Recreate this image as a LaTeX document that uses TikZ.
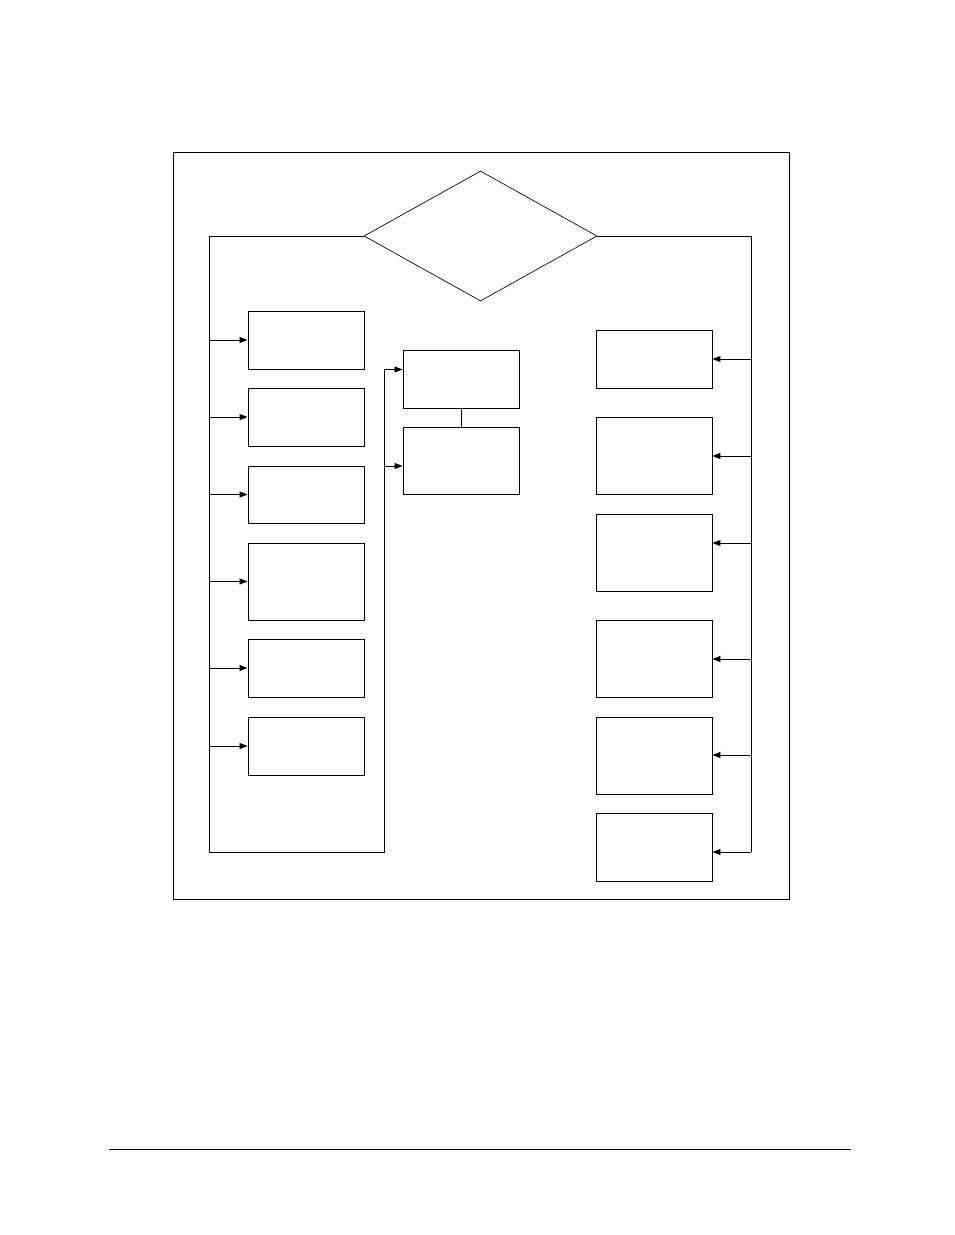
\documentclass[tikz,border=0pt]{standalone}
\usetikzlibrary{arrows.meta,shapes.geometric,fit}
\begin{document}
\begin{tikzpicture}[x=0.75pt,y=-0.75pt,
  line width=0.65pt,
  box/.style={draw,rectangle,inner sep=0pt,line width=0.7pt},
  arr/.style={-{Triangle[length=6pt,width=4.5pt]},line width=0.65pt}]
\useasboundingbox (0,0) rectangle (954,1235);
% frame
\node[box,fit={(173,152) (789,899)}] (frame) {};
% decision
\node[draw,diamond,inner sep=0pt,minimum width=174.75pt,minimum height=97.5pt,aspect=1.79,line width=0.5pt] (dia) at (480.5,236) {};
% left boxes
\node[box,fit={(248,311) (364,369)}] (l1) {};
\node[box,fit={(248,388) (364,446)}] (l2) {};
\node[box,fit={(248,466) (364,523)}] (l3) {};
\node[box,fit={(248,543) (364,620)}] (l4) {};
\node[box,fit={(248,639) (364,697)}] (l5) {};
\node[box,fit={(248,717) (364,775)}] (l6) {};
% middle boxes
\node[box,fit={(403,350) (519,408)}] (ma) {};
\node[box,fit={(403,427) (519,494)}] (mb) {};
% right boxes
\node[box,fit={(596,330) (712,388)}] (r1) {};
\node[box,fit={(596,417) (712,494)}] (r2) {};
\node[box,fit={(596,514) (712,591)}] (r3) {};
\node[box,fit={(596,620) (712,697)}] (r4) {};
\node[box,fit={(596,717) (712,794)}] (r5) {};
\node[box,fit={(596,813) (712,881)}] (r6) {};
% bus coordinates
\coordinate (ltop) at (209.5,236);
\coordinate (lbot) at (209.5,852);
\coordinate (mbot) at (384,852);
\coordinate (mtop) at (384,369.5);
\coordinate (mb2) at (384,466);
\coordinate (rtop) at (751,236);
\coordinate (rbot) at (751,852);
\coordinate (ra1) at (751,359);
\coordinate (ra2) at (751,456);
\coordinate (ra3) at (751,543);
\coordinate (ra4) at (751,659);
\coordinate (ra5) at (751,755);
\coordinate (ra6) at (751,852);
% left bus
\draw (dia.west) -- (ltop) -- (lbot) -- (mbot) -- (mtop);
\foreach \b in {l1,l2,l3,l4,l5,l6}
  \draw[arr] (ltop |- \b.west) -- (\b.west);
% middle
\draw[arr] (mtop) -- (mtop -| ma.west);
\draw[arr] (mb2) -- (mb2 -| mb.west);
\draw (ma.south) -- (mb.north);
% right bus
\draw (dia.east) -- (rtop) -- (rbot);
\draw[arr] (ra1) -- (ra1 -| r1.east);
\draw[arr] (ra2) -- (ra2 -| r2.east);
\draw[arr] (ra3) -- (ra3 -| r3.east);
\draw[arr] (ra4) -- (ra4 -| r4.east);
\draw[arr] (ra5) -- (ra5 -| r5.east);
\draw[arr] (ra6) -- (ra6 -| r6.east);
% footer rule
\coordinate (fl) at (109,1149);
\coordinate (fr) at (851,1149);
\draw (fl) -- (fr);
\end{tikzpicture}
\end{document}
